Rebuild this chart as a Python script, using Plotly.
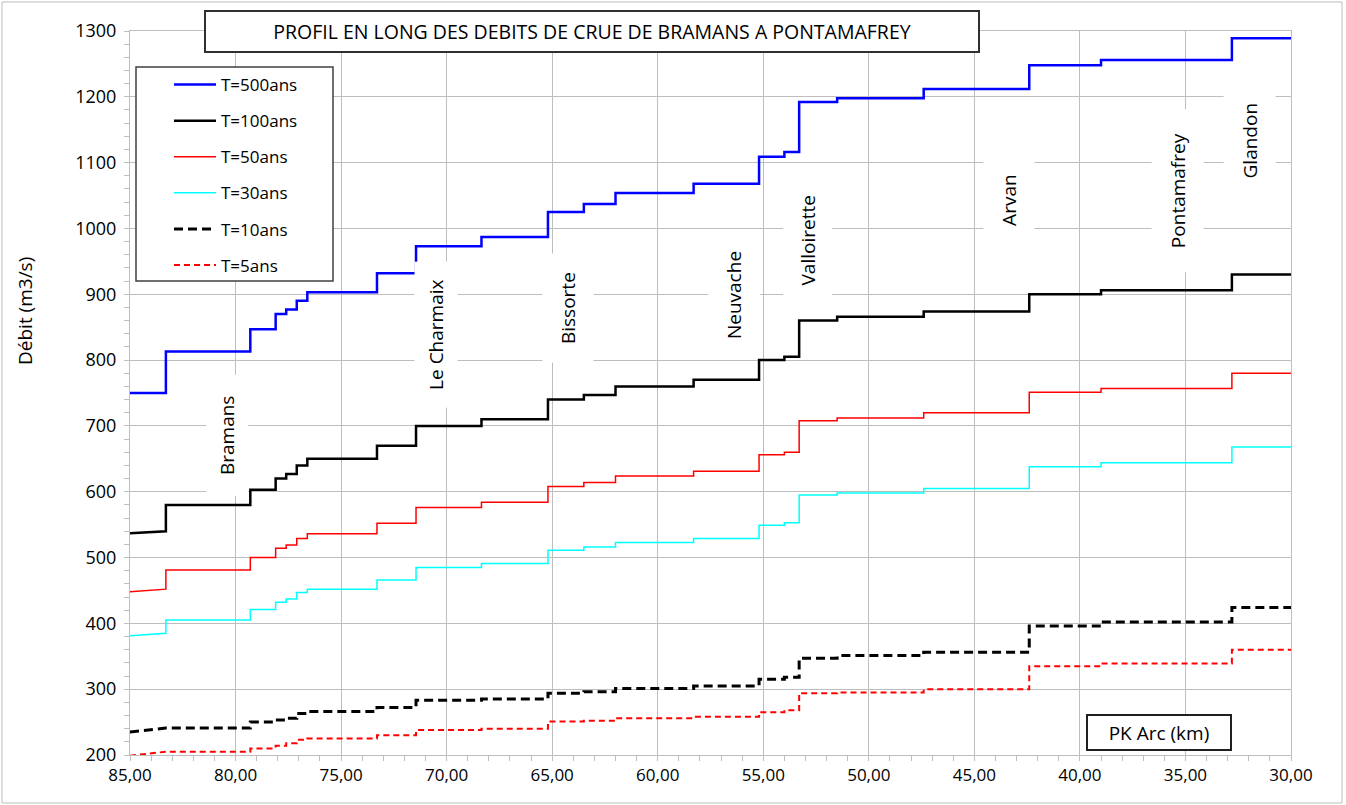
import plotly.graph_objects as go

# Kilometre points (PK Arc) where the discharge changes
PK = [85.0, 83.3, 79.3, 78.1, 77.6, 77.1, 76.6, 73.3, 71.45, 68.35, 65.2, 63.5,
      62.0, 58.3, 55.2, 54.0, 53.3, 51.5, 47.4, 42.4, 39.0, 32.8, 30.0]

# Discharge at PK 85 and on each reach between two PK points (m3/s)
T500_start = 750
T500 = [750, 813, 847, 870, 877, 890, 903, 932, 973, 987, 1025, 1037, 1054, 1068,
        1109, 1116, 1192, 1198, 1212, 1248, 1256, 1289]
T100_start = 537
T100 = [540, 580, 603, 620, 627, 640, 650, 670, 700, 710, 740, 747, 760, 770,
        800, 805, 860, 866, 874, 900, 906, 930]
T50_start = 448
T50 = [452, 481, 500, 514, 519, 529, 536, 552, 576, 584, 608, 614, 624, 631,
       656, 660, 708, 712, 720, 751, 757, 780]
T30_start = 381
T30 = [385, 405, 421, 432, 437, 447, 452, 466, 485, 491, 511, 516, 523, 529,
       549, 553, 595, 598, 605, 638, 644, 668]
T10_start = 235
T10 = [241, 241, 250, 253, 256, 263, 266, 272, 283, 285, 294, 296, 301, 305,
       315, 318, 347, 351, 356, 396, 402, 424]
T5_start = 199
T5 = [205, 205, 210, 214, 218, 223, 225, 230, 238, 240, 251, 252, 256, 258,
      265, 268, 294, 295, 300, 335, 339, 360]

# Tributaries / places labels (PK, discharge position)
places = ["Bramans", "Le Charmaix", "Bissorte", "Neuvache", "Valloirette",
          "Arvan", "Pontamafrey", "Glandon"]
place_pk = [80.38, 70.50, 64.25, 56.36, 52.88, 43.36, 35.38, 31.97]
place_q = [685, 838, 879, 899, 982, 1043, 1058, 1134]
place_len = [120, 145, 108, 125, 140, 100, 162, 110]
place_wid = [41, 42, 50, 51, 48, 50, 51, 51]


def step_xy(start, vals):
    xs, ys = [PK[0]], [start]
    for i, v in enumerate(vals):
        if i > 0:
            xs.append(PK[i])
            ys.append(v)
        xs.append(PK[i + 1])
        ys.append(v)
    return xs, ys


series = [
    ("T=500ans", T500_start, T500, dict(color="#0000FF", width=2.5)),
    ("T=100ans", T100_start, T100, dict(color="#000000", width=2.5)),
    ("T=50ans", T50_start, T50, dict(color="#FF0000", width=1.5)),
    ("T=30ans", T30_start, T30, dict(color="#00FFFF", width=1.5)),
    ("T=10ans", T10_start, T10, dict(color="#000000", width=3, dash="9px,5px")),
    ("T=5ans", T5_start, T5, dict(color="#FF0000", width=2, dash="6px,4px")),
]

FONT = "Open Sans, Lato, sans-serif"
L_PX, T_PX, PW, PH = 130, 31, 1161, 724


def px_x(p):
    return (p - L_PX) / PW


def px_y(p):
    return (T_PX + PH - p) / PH


fig = go.Figure()
for name, s, vals, line in series:
    xs, ys = step_xy(s, vals)
    fig.add_trace(go.Scatter(x=xs, y=ys, mode="lines", name=name, line=line,
                             legendgroup=name))

grid = "rgb(190,190,190)"
fig.update_layout(
    width=1346, height=805,
    margin=dict(l=130, r=55, t=31, b=50),
    paper_bgcolor="white", plot_bgcolor="white",
    font=dict(family=FONT, size=17, color="#000000"),
    separators=", ",
    showlegend=True,
    legend=dict(x=px_x(169), y=px_y(67), xanchor="left", yanchor="top",
                bgcolor="rgba(0,0,0,0)", borderwidth=0,
                font=dict(family=FONT, size=17), tracegroupgap=11,
                itemwidth=42),
    xaxis=dict(range=[85, 30], dtick=5, tick0=30, tickformat=".2f",
               showgrid=True, gridcolor=grid, gridwidth=1,
               showline=True, linecolor=grid, linewidth=1, mirror=True,
               ticks="outside", ticklen=5, tickcolor=grid,
               minor=dict(dtick=1, ticks="outside", ticklen=5, tickcolor=grid, showgrid=False),
               zeroline=False, tickfont=dict(size=17)),
    yaxis=dict(range=[200, 1300], dtick=100, tickformat="d",
               showgrid=True, gridcolor=grid, gridwidth=1,
               showline=True, linecolor=grid, linewidth=1, mirror=True,
               ticks="outside", ticklen=5, tickcolor=grid, ticklabelstandoff=4,
               minor=dict(dtick=20, ticks="outside", ticklen=5, tickcolor=grid, showgrid=False),
               zeroline=False, tickfont=dict(size=18)),
)

# Legend frame (white box hiding the grid)
fig.add_shape(type="rect", xref="paper", yref="paper",
              x0=px_x(136), x1=px_x(333), y0=px_y(281), y1=px_y(67),
              fillcolor="white", line=dict(color="#404040", width=1.5), layer="above")

for txt, x, y, L, W in zip(places, place_pk, place_q, place_len, place_wid):
    fig.add_annotation(x=x, y=y, xref="x", yref="y", text=txt, showarrow=False,
                       textangle=-90, bgcolor="white", width=L, height=W,
                       xanchor="center", yanchor="middle",
                       borderpad=0, font=dict(size=19, family=FONT))

# Title box
fig.add_annotation(xref="paper", yref="paper", x=px_x(592), y=px_y(31.5),
                   xanchor="center", yanchor="middle",
                   text="PROFIL EN LONG DES DEBITS DE CRUE DE BRAMANS A PONTAMAFREY",
                   showarrow=False, bgcolor="white", bordercolor="#303030",
                   borderwidth=2, width=772, height=39, borderpad=0,
                   font=dict(size=19.5, family=FONT))
# X axis label box
fig.add_annotation(xref="paper", yref="paper", x=px_x(1159), y=px_y(732.5),
                   xanchor="center", yanchor="middle",
                   text="PK Arc (km)", showarrow=False, bgcolor="white",
                   bordercolor="#202020", borderwidth=2, width=142, height=33,
                   borderpad=0, font=dict(size=19, family=FONT))
# Y axis title
fig.add_annotation(xref="paper", yref="paper", x=px_x(25), y=px_y(311),
                   xanchor="center", yanchor="middle",
                   text="Débit (m3/s)", showarrow=False, textangle=-90,
                   font=dict(size=19, family=FONT))

# Outer frame
fig.add_shape(type="rect", xref="paper", yref="paper",
              x0=px_x(2), x1=px_x(1342), y0=px_y(803), y1=px_y(2),
              line=dict(color="rgb(190,190,190)", width=1), layer="below")

fig.write_html("out.html", config={"displayModeBar": False},
               post_script="document.body.style.margin='0px';")
